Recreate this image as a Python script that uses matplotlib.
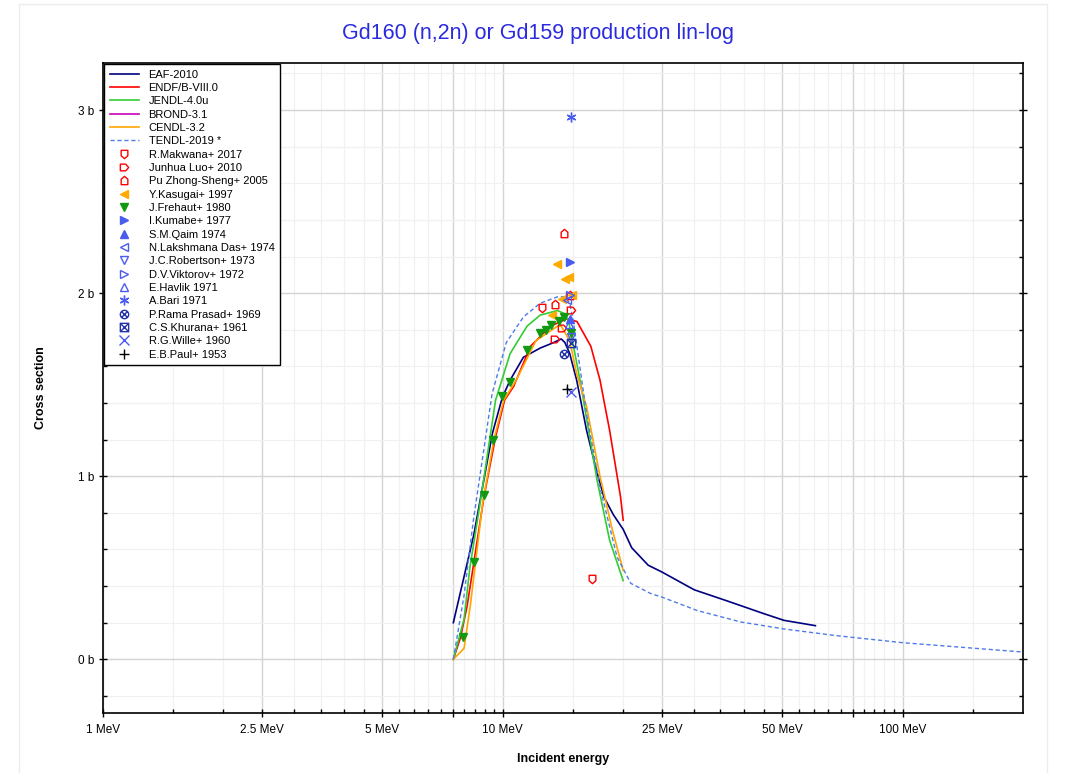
import numpy as np
import matplotlib
matplotlib.use('Agg')
import matplotlib.pyplot as plt
from matplotlib.path import Path
from matplotlib.patches import Rectangle
from matplotlib.ticker import FixedLocator, NullFormatter

plt.rcParams['font.family'] = ['Liberation Sans', 'DejaVu Sans']

# evaluated cross sections (MeV, barn)
eaf_e = [7.52, 8.46, 9.42, 9.97, 10.43, 11.26, 12.4, 13.4, 14.0, 14.3, 14.7, 15.3, 16.2, 17.2,
         17.9, 18.9, 20.0, 21.0, 23.1, 25.0, 30.1, 36.3, 44.9, 50.5, 60.5]
eaf_s = [0.20, 0.68, 1.235, 1.43, 1.525, 1.65, 1.70, 1.73, 1.75, 1.73, 1.67, 1.525, 1.25, 1.02,
         0.887, 0.79, 0.71, 0.61, 0.514, 0.477, 0.38, 0.32, 0.25, 0.213, 0.184]
endf_e = [7.52, 7.84, 8.14, 8.97, 9.59, 10.1, 10.64, 11.73, 13.17, 14.47, 15.33, 16.6, 17.5, 18.5, 19.7, 20.0]
endf_s = [0.0, 0.12, 0.29, 0.887, 1.215, 1.415, 1.49, 1.71, 1.82, 1.86, 1.845, 1.71, 1.525, 1.25, 0.887, 0.76]
jendl_e = [7.52, 8.0, 8.27, 8.8, 9.59, 10.43, 11.5, 12.4, 13.7, 14.2, 14.6, 15.6, 17.2, 18.5, 20.0]
jendl_s = [0.0, 0.22, 0.50, 0.87, 1.415, 1.67, 1.82, 1.88, 1.905, 1.89, 1.85, 1.525, 0.98, 0.65, 0.43]
brond_e = []
brond_s = []
cendl_e = [7.52, 8.0, 8.3, 8.9, 9.5, 10.05, 10.8, 12.1, 13.7, 14.0, 14.7, 15.3, 16.2, 17.5, 18.8, 20.0]
cendl_s = [0.0, 0.06, 0.30, 0.85, 1.2, 1.415, 1.525, 1.74, 1.82, 1.82, 1.74, 1.56, 1.38, 1.0, 0.705, 0.486]
tendl_e = [7.52, 8.0, 8.44, 9.4, 10.2, 11.26, 12.4, 13.7, 14.3, 14.7, 15.0, 16.2, 17.5, 19.3, 20.9,
           23.4, 25.0, 30.6, 39.4, 50.5, 67.3, 100.0, 200.0]
tendl_s = [0.0, 0.35, 0.76, 1.45, 1.73, 1.87, 1.945, 1.98, 1.98, 1.945, 1.85, 1.34, 0.94, 0.56, 0.415,
           0.36, 0.34, 0.267, 0.204, 0.166, 0.131, 0.091, 0.04]

# experimental points
makwana_e = [12.5, 16.7]
makwana_s = [1.92, 0.437]
luo_e = [13.5, 14.1, 14.8]
luo_s = [1.75, 1.81, 1.91]
pu_e = [13.5, 14.2, 14.7]
pu_s = [1.94, 2.33, 1.99]
kasugai_e = [13.3, 13.7, 14.1, 14.3, 14.6, 14.9]
kasugai_s = [1.88, 2.16, 1.97, 2.08, 2.09, 1.99]
frehaut_e = [7.95, 8.46, 8.95, 9.45, 9.97, 10.4, 11.5, 12.4, 12.85, 13.2, 13.8, 14.2, 14.8]
frehaut_s = [0.12, 0.53, 0.90, 1.20, 1.44, 1.515, 1.69, 1.78, 1.80, 1.825, 1.85, 1.87, 1.78]
kumabe_e = [14.7]
kumabe_s = [2.17]
qaim_e = [14.7]
qaim_s = [1.86]
das_e = [14.5]
das_s = [1.96]
robertson_e = [14.8]
robertson_s = [1.76]
viktorov_e = [14.7]
viktorov_s = [1.99]
havlik_e = [14.6]
havlik_s = [1.83]
bari_e = [14.8]
bari_s = [2.96]
prasad_e = [14.2]
prasad_s = [1.67]
khurana_e = [14.85]
khurana_s = [1.73]
wille_e = [14.8]
wille_s = [1.46]
paul_e = [14.45]
paul_s = [1.475]

x_ticks = [1, 2.5, 5, 7.5, 10, 25, 50, 75, 100]
x_labels = ['1 MeV', '2.5 MeV', '5 MeV', '', '10 MeV', '25 MeV', '50 MeV', '', '100 MeV']
x_minor = [1.5, 2, 3, 3.5, 4, 4.5, 5.5, 6, 6.5, 7, 8, 8.5, 9, 9.5,
           15, 20, 30, 35, 40, 45, 55, 60, 65, 70, 80, 85, 90, 95, 150]
y_ticks = [0, 1, 2, 3]
y_labels = ['0 b', '1 b', '2 b', '3 b']

# custom marker shapes
house_up = Path([(-0.8, -1), (0.8, -1), (0.8, 0.3), (0, 1), (-0.8, 0.3), (-0.8, -1)], closed=True)
house_right = Path([(-1, -0.8), (-1, 0.8), (0.3, 0.8), (1, 0), (0.3, -0.8), (-1, -0.8)], closed=True)
shield_down = Path([(-0.8, 1), (0.8, 1), (0.8, -0.3), (0, -1), (-0.8, -0.3), (-0.8, 1)], closed=True)
d = 0.7
circ_x = Path.make_compound_path(Path.unit_circle(),
                                 Path([(-d, -d), (d, d)]), Path([(-d, d), (d, -d)]))
sq_x = Path.make_compound_path(Path([(-1, -1), (1, -1), (1, 1), (-1, 1), (-1, -1)], closed=True),
                               Path([(-1, -1), (1, 1)]), Path([(-1, 1), (1, -1)]))

blue = '#4a5cf0'
lines = [
    ('EAF-2010', eaf_e, eaf_s, '#000080', '-'),
    ('ENDF/B-VIII.0', endf_e, endf_s, '#ff0000', '-'),
    ('JENDL-4.0u', jendl_e, jendl_s, '#33cc33', '-'),
    ('BROND-3.1', brond_e, brond_s, '#cc00bb', '-'),
    ('CENDL-3.2', cendl_e, cendl_s, '#ffa500', '-'),
    ('TENDL-2019 *', tendl_e, tendl_s, '#4f7be8', '--'),
]
points = [
    ('R.Makwana+ 2017', makwana_e, makwana_s, shield_down, '#ff0000', False),
    ('Junhua Luo+ 2010', luo_e, luo_s, house_right, '#ff0000', False),
    ('Pu Zhong-Sheng+ 2005', pu_e, pu_s, house_up, '#ff0000', False),
    ('Y.Kasugai+ 1997', kasugai_e, kasugai_s, '<', '#ffaa00', True),
    ('J.Frehaut+ 1980', frehaut_e, frehaut_s, 'v', '#119911', True),
    ('I.Kumabe+ 1977', kumabe_e, kumabe_s, '>', blue, True),
    ('S.M.Qaim 1974', qaim_e, qaim_s, '^', blue, True),
    ('N.Lakshmana Das+ 1974', das_e, das_s, '<', blue, False),
    ('J.C.Robertson+ 1973', robertson_e, robertson_s, 'v', blue, False),
    ('D.V.Viktorov+ 1972', viktorov_e, viktorov_s, '>', blue, False),
    ('E.Havlik 1971', havlik_e, havlik_s, '^', blue, False),
    ('A.Bari 1971', bari_e, bari_s, (6, 2, 0), blue, False),
    ('P.Rama Prasad+ 1969', prasad_e, prasad_s, circ_x, '#2233aa', False),
    ('C.S.Khurana+ 1961', khurana_e, khurana_s, sq_x, '#2233aa', False),
    ('R.G.Wille+ 1960', wille_e, wille_s, 'x', blue, False),
    ('E.B.Paul+ 1953', paul_e, paul_s, '+', '#000000', False),
]

fig = plt.figure(figsize=(10.67, 7.73), dpi=100)
ax = fig.add_axes([103 / 1067, 1 - 713 / 773, 920 / 1067, 650 / 773])
fig.patches.append(Rectangle((19 / 1067, -0.01), 1028 / 1067, 1 - 4 / 773 + 0.01,
                             transform=fig.transFigure, fill=False, edgecolor='#ececec', lw=1))

handles = []
for name, e, s, col, ls in lines:
    h, = ax.plot(e, s, color=col, ls=ls, lw=1.2 if ls == '-' else 1.0, label=name,
                 dashes=(3, 2) if ls == '--' else (None, None))
    handles.append(h)

for name, e, s, mk, col, filled in points:
    size = 7 if mk in ('x', '+') or isinstance(mk, tuple) else 6
    h, = ax.plot(e, s, ls='none', marker=mk, ms=size, mec=col,
                 mfc=col if filled else 'none', mew=1.0, label=name)
    handles.append(h)

ax.set_xscale('log')
ax.set_xlim(1, 200)
ax.set_ylim(-0.293, 3.257)

ax.xaxis.set_major_locator(FixedLocator(x_ticks))
ax.set_xticklabels(x_labels)
ax.xaxis.set_minor_locator(FixedLocator(x_minor))
ax.xaxis.set_minor_formatter(NullFormatter())
ax.yaxis.set_major_locator(FixedLocator(y_ticks))
ax.set_yticklabels(y_labels)
ax.yaxis.set_minor_locator(FixedLocator(np.arange(-0.2, 3.3, 0.2)))

ax.grid(which='major', color='#d4d4d4', lw=1.0)
ax.grid(which='minor', color='#f1f1f1', lw=0.9)
ax.set_axisbelow(True)
ax.tick_params(which='major', direction='inout', length=6, width=1, labelsize=8.5)
ax.tick_params(which='minor', direction='in', length=3, width=1, right=True)
ax.tick_params(axis='y', which='major', right=True)
ax.tick_params(axis='x', which='major', pad=5)
for sp in ax.spines.values():
    sp.set_linewidth(1.2)

ax.set_xlabel('Incident energy', fontsize=9, fontweight='bold', labelpad=12)
ax.set_ylabel('Cross section', fontsize=9, fontweight='bold', labelpad=22)
fig.text(0.5045, 0.957, 'Gd160 (n,2n) or Gd159 production lin-log', ha='center', va='center',
         fontsize=15.5, color='#2a2ae0')

leg = ax.legend(handles=handles, loc='upper left', bbox_to_anchor=(0.0, 1.0), fontsize=8,
                frameon=True, fancybox=False, edgecolor='#000000', framealpha=1,
                borderpad=0.5, labelspacing=0.3, handlelength=2.6, handletextpad=0.9,
                borderaxespad=0.1)
leg.get_frame().set_linewidth(1.0)

fig.savefig('out.png', dpi=100)
